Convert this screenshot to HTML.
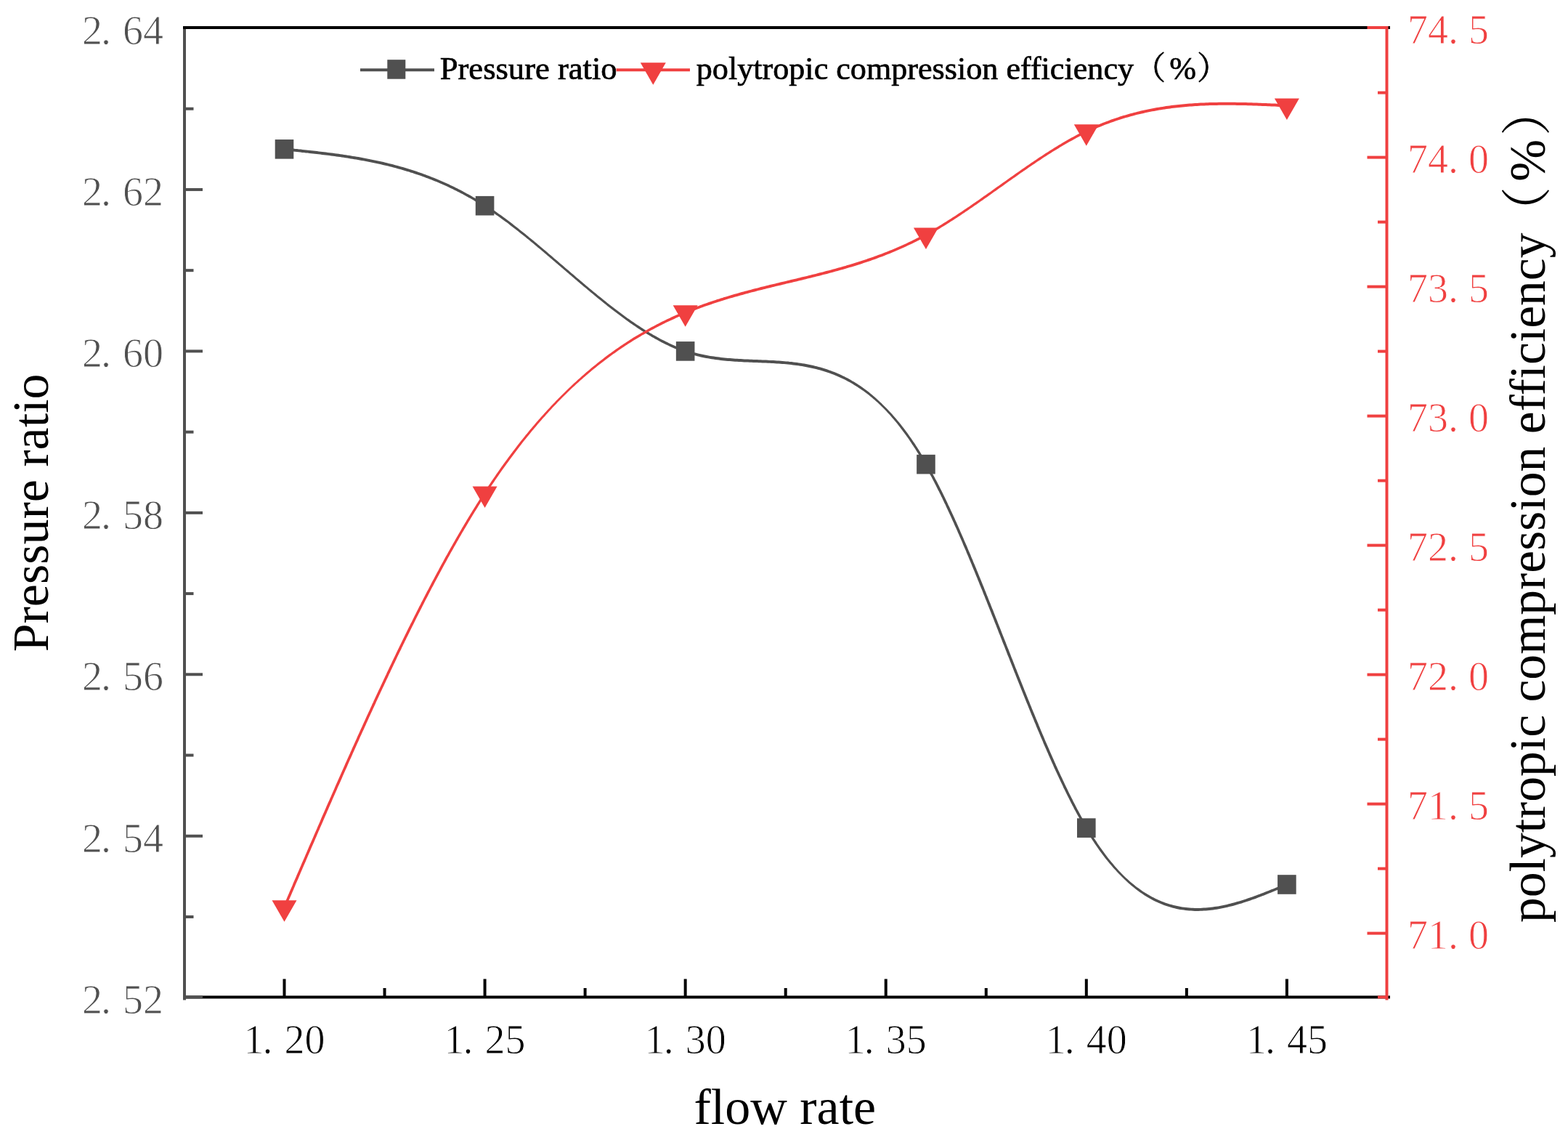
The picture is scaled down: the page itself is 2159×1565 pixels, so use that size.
<!DOCTYPE html><html><head><meta charset="utf-8"><title>Pressure ratio and polytropic compression efficiency vs flow rate</title>
<style>html,body{margin:0;padding:0;background:#fff;overflow:hidden}svg{display:block}text{font-family:"Liberation Serif","Noto Serif CJK SC",serif}</style></head><body>
<svg width="2159" height="1565" viewBox="0 0 2159 1565">
<rect width="2159" height="1565" fill="#fff"/>
<path d="M391.3,207.3 393.8,207.6 396.3,207.8 398.8,208.1 401.2,208.3 403.7,208.6 406.2,208.8 408.7,209.1 411.2,209.3 413.7,209.6 416.2,209.9 418.6,210.1 421.1,210.4 423.6,210.6 426.1,210.9 428.6,211.2 431.1,211.5 433.5,211.7 436.0,212.0 438.5,212.3 441.0,212.6 443.5,212.9 445.9,213.2 448.4,213.5 450.9,213.8 453.4,214.1 455.9,214.4 458.3,214.8 460.8,215.1 463.3,215.4 465.7,215.8 468.2,216.1 470.7,216.5 473.2,216.8 475.6,217.2 478.1,217.6 480.6,218.0 483.0,218.4 485.5,218.8 487.9,219.2 490.4,219.6 492.9,220.0 495.3,220.4 497.8,220.9 500.2,221.3 502.7,221.8 505.1,222.2 507.6,222.7 510.0,223.2 512.5,223.7 514.9,224.2 517.3,224.7 519.8,225.2 522.2,225.8 524.6,226.3 527.1,226.9 529.5,227.5 531.9,228.0 534.3,228.6 536.8,229.2 539.2,229.8 541.6,230.5 544.0,231.1 546.4,231.8 548.8,232.4 551.2,233.1 553.6,233.8 556.0,234.5 558.4,235.2 560.8,235.9 563.2,236.6 565.5,237.4 567.9,238.1 570.3,238.9 572.6,239.7 575.0,240.5 577.4,241.3 579.7,242.1 582.1,243.0 584.4,243.8 586.7,244.7 589.1,245.6 591.4,246.4 593.7,247.3 596.0,248.3 598.3,249.2 600.6,250.1 603.0,251.1 605.2,252.1 607.5,253.1 609.8,254.1 612.1,255.1 614.4,256.1 616.6,257.1 618.9,258.2 621.1,259.3 623.4,260.3 625.6,261.4 627.9,262.5 630.1,263.7 632.3,264.8 634.5,265.9 636.7,267.1 638.9,268.3 641.1,269.5 643.3,270.7 645.5,271.9 647.7,273.1 649.8,274.3 652.0,275.6 654.1,276.9 656.3,278.1 658.4,279.4 660.5,280.7 662.6,282.1 664.8,283.4 666.9,284.7 669.0,286.1 671.0,287.4 673.1,288.8 675.2,290.2 677.3,291.6 679.3,293.0 681.4,294.5 683.4,295.9 685.5,297.3 687.5,298.8 689.5,300.2 691.5,301.7 693.6,303.2 695.6,304.7 697.6,306.1 699.6,307.6 701.6,309.2 703.5,310.7 705.5,312.2 707.5,313.7 709.5,315.2 711.4,316.8 713.4,318.3 715.4,319.9 717.3,321.4 719.3,323.0 721.2,324.5 723.2,326.1 725.1,327.7 727.1,329.3 729.0,330.8 730.9,332.4 732.9,334.0 734.8,335.6 736.7,337.2 738.6,338.8 740.5,340.4 742.5,342.0 744.4,343.6 746.3,345.2 748.2,346.8 750.1,348.4 752.0,350.1 753.9,351.7 755.8,353.3 757.7,354.9 759.6,356.5 761.5,358.2 763.4,359.8 765.3,361.4 767.2,363.0 769.1,364.7 771.0,366.3 772.9,367.9 774.8,369.6 776.7,371.2 778.6,372.8 780.5,374.4 782.4,376.1 784.3,377.7 786.2,379.3 788.1,380.9 790.0,382.6 791.9,384.2 793.8,385.8 795.7,387.4 797.6,389.1 799.5,390.7 801.4,392.3 803.3,393.9 805.3,395.5 807.2,397.1 809.1,398.7 811.0,400.3 812.9,401.9 814.9,403.5 816.8,405.1 818.7,406.7 820.6,408.3 822.6,409.9 824.5,411.5 826.5,413.0 828.4,414.6 830.4,416.2 832.3,417.8 834.3,419.3 836.2,420.9 838.2,422.4 840.2,424.0 842.1,425.5 844.1,427.0 846.1,428.6 848.1,430.1 850.1,431.6 852.1,433.1 854.1,434.6 856.1,436.1 858.1,437.6 860.1,439.0 862.1,440.5 864.2,442.0 866.2,443.4 868.3,444.9 870.3,446.3 872.4,447.7 874.5,449.1 876.5,450.5 878.6,451.9 880.7,453.3 882.8,454.7 884.9,456.0 887.0,457.4 889.1,458.7 891.3,460.0 893.4,461.3 895.6,462.6 897.7,463.9 899.9,465.1 902.1,466.4 904.3,467.6 906.5,468.8 908.7,470.0 910.9,471.2 913.1,472.3 915.4,473.4 917.6,474.6 919.9,475.6 922.2,476.7 924.4,477.8 926.7,478.8 929.0,479.8 931.4,480.8 933.7,481.7 936.0,482.6 938.4,483.5 940.8,484.4 943.1,485.2 945.5,486.0 947.9,486.8 950.3,487.5 952.7,488.2 955.2,488.9 957.6,489.6 960.0,490.2 962.5,490.8 964.9,491.4 967.4,491.9 969.9,492.4 972.3,492.9 974.8,493.3 977.3,493.8 979.8,494.2 982.3,494.6 984.8,494.9 987.2,495.3 989.7,495.6 992.2,495.9 994.7,496.2 997.2,496.4 999.7,496.7 1002.2,496.9 1004.7,497.1 1007.2,497.3 1009.7,497.5 1012.2,497.7 1014.8,497.8 1017.3,498.0 1019.8,498.1 1022.3,498.2 1024.8,498.4 1027.3,498.5 1029.8,498.6 1032.3,498.7 1034.8,498.8 1037.3,498.9 1039.8,499.0 1042.3,499.1 1044.8,499.2 1047.3,499.3 1049.8,499.4 1052.3,499.5 1054.7,499.6 1057.2,499.7 1059.7,499.8 1062.2,500.0 1064.7,500.1 1067.2,500.2 1069.7,500.4 1072.2,500.6 1074.7,500.7 1077.1,500.9 1079.6,501.1 1082.1,501.3 1084.6,501.6 1087.1,501.8 1089.5,502.1 1092.0,502.4 1094.5,502.7 1096.9,503.0 1099.4,503.3 1101.8,503.7 1104.3,504.1 1106.7,504.5 1109.2,504.9 1111.6,505.4 1114.1,505.9 1116.5,506.4 1118.9,506.9 1121.3,507.5 1123.7,508.1 1126.1,508.7 1128.5,509.3 1130.9,510.0 1133.3,510.7 1135.7,511.4 1138.0,512.2 1140.4,513.0 1142.7,513.8 1145.1,514.7 1147.4,515.6 1149.7,516.5 1152.0,517.4 1154.3,518.4 1156.5,519.4 1158.8,520.5 1161.0,521.5 1163.2,522.6 1165.5,523.8 1167.6,524.9 1169.8,526.1 1172.0,527.3 1174.1,528.6 1176.3,529.9 1178.4,531.2 1180.5,532.5 1182.6,533.9 1184.6,535.3 1186.7,536.7 1188.7,538.1 1190.7,539.6 1192.7,541.1 1194.7,542.6 1196.7,544.1 1198.6,545.7 1200.6,547.3 1202.5,548.9 1204.4,550.5 1206.2,552.2 1208.1,553.8 1209.9,555.5 1211.7,557.2 1213.5,559.0 1215.3,560.7 1217.1,562.5 1218.8,564.3 1220.5,566.1 1222.2,567.9 1223.9,569.8 1225.6,571.6 1227.2,573.5 1228.9,575.4 1230.5,577.3 1232.1,579.2 1233.7,581.1 1235.3,583.1 1236.8,585.0 1238.4,587.0 1239.9,589.0 1241.4,591.0 1242.9,593.0 1244.4,595.0 1245.9,597.0 1247.4,599.0 1248.8,601.0 1250.3,603.1 1251.7,605.1 1253.1,607.2 1254.5,609.3 1255.9,611.4 1257.3,613.4 1258.6,615.5 1260.0,617.6 1261.3,619.8 1262.7,621.9 1264.0,624.0 1265.3,626.1 1266.6,628.3 1267.9,630.4 1269.2,632.6 1270.4,634.7 1271.7,636.9 1272.9,639.1 1274.2,641.2 1275.4,643.4 1276.6,645.6 1277.8,647.8 1279.0,650.0 1280.2,652.2 1281.4,654.4 1282.6,656.6 1283.7,658.8 1284.9,661.0 1286.1,663.2 1287.2,665.5 1288.4,667.7 1289.5,669.9 1290.6,672.2 1291.7,674.4 1292.9,676.6 1294.0,678.9 1295.1,681.1 1296.2,683.4 1297.3,685.6 1298.4,687.9 1299.4,690.1 1300.5,692.4 1301.6,694.6 1302.7,696.9 1303.7,699.2 1304.8,701.4 1305.8,703.7 1306.9,706.0 1307.9,708.2 1309.0,710.5 1310.0,712.8 1311.0,715.1 1312.1,717.4 1313.1,719.6 1314.1,721.9 1315.1,724.2 1316.2,726.5 1317.2,728.8 1318.2,731.1 1319.2,733.4 1320.2,735.6 1321.2,737.9 1322.2,740.2 1323.2,742.5 1324.2,744.8 1325.2,747.1 1326.1,749.4 1327.1,751.7 1328.1,754.0 1329.1,756.3 1330.1,758.6 1331.0,760.9 1332.0,763.2 1333.0,765.5 1333.9,767.8 1334.9,770.2 1335.9,772.5 1336.8,774.8 1337.8,777.1 1338.7,779.4 1339.7,781.7 1340.6,784.0 1341.6,786.3 1342.5,788.6 1343.5,791.0 1344.4,793.3 1345.4,795.6 1346.3,797.9 1347.3,800.2 1348.2,802.5 1349.1,804.9 1350.1,807.2 1351.0,809.5 1352.0,811.8 1352.9,814.1 1353.8,816.5 1354.7,818.8 1355.7,821.1 1356.6,823.4 1357.5,825.7 1358.5,828.1 1359.4,830.4 1360.3,832.7 1361.2,835.0 1362.2,837.4 1363.1,839.7 1364.0,842.0 1364.9,844.3 1365.8,846.7 1366.8,849.0 1367.7,851.3 1368.6,853.6 1369.5,856.0 1370.4,858.3 1371.4,860.6 1372.3,862.9 1373.2,865.3 1374.1,867.6 1375.0,869.9 1375.9,872.2 1376.9,874.6 1377.8,876.9 1378.7,879.2 1379.6,881.5 1380.5,883.9 1381.4,886.2 1382.4,888.5 1383.3,890.8 1384.2,893.2 1385.1,895.5 1386.0,897.8 1386.9,900.2 1387.8,902.5 1388.8,904.8 1389.7,907.1 1390.6,909.5 1391.5,911.8 1392.4,914.1 1393.4,916.4 1394.3,918.8 1395.2,921.1 1396.1,923.4 1397.0,925.7 1398.0,928.1 1398.9,930.4 1399.8,932.7 1400.7,935.0 1401.6,937.3 1402.6,939.7 1403.5,942.0 1404.4,944.3 1405.3,946.6 1406.3,949.0 1407.2,951.3 1408.1,953.6 1409.1,955.9 1410.0,958.2 1410.9,960.6 1411.9,962.9 1412.8,965.2 1413.7,967.5 1414.7,969.8 1415.6,972.1 1416.6,974.5 1417.5,976.8 1418.4,979.1 1419.4,981.4 1420.3,983.7 1421.3,986.0 1422.2,988.3 1423.2,990.6 1424.1,992.9 1425.1,995.3 1426.1,997.6 1427.0,999.9 1428.0,1002.2 1428.9,1004.5 1429.9,1006.8 1430.9,1009.1 1431.9,1011.4 1432.8,1013.7 1433.8,1016.0 1434.8,1018.3 1435.8,1020.6 1436.7,1022.9 1437.7,1025.2 1438.7,1027.5 1439.7,1029.8 1440.7,1032.1 1441.7,1034.4 1442.7,1036.6 1443.7,1038.9 1444.7,1041.2 1445.7,1043.5 1446.7,1045.8 1447.7,1048.1 1448.8,1050.4 1449.8,1052.6 1450.8,1054.9 1451.8,1057.2 1452.9,1059.5 1453.9,1061.7 1455.0,1064.0 1456.0,1066.3 1457.1,1068.5 1458.1,1070.8 1459.2,1073.1 1460.2,1075.3 1461.3,1077.6 1462.4,1079.8 1463.5,1082.1 1464.5,1084.4 1465.6,1086.6 1466.7,1088.8 1467.8,1091.1 1468.9,1093.3 1470.0,1095.6 1471.2,1097.8 1472.3,1100.0 1473.4,1102.3 1474.5,1104.5 1475.7,1106.7 1476.8,1108.9 1478.0,1111.1 1479.1,1113.4 1480.3,1115.6 1481.5,1117.8 1482.7,1120.0 1483.9,1122.2 1485.1,1124.3 1486.3,1126.5 1487.5,1128.7 1488.7,1130.9 1490.0,1133.1 1491.2,1135.2 1492.5,1137.4 1493.8,1139.5 1495.0,1141.7 1496.3,1143.8 1497.6,1145.9 1498.9,1148.1 1500.3,1150.2 1501.6,1152.3 1503.0,1154.4 1504.3,1156.5 1505.7,1158.6 1507.1,1160.7 1508.5,1162.7 1509.9,1164.8 1511.3,1166.8 1512.8,1168.9 1514.2,1170.9 1515.7,1172.9 1517.2,1174.9 1518.7,1176.9 1520.2,1178.9 1521.7,1180.9 1523.3,1182.9 1524.8,1184.8 1526.4,1186.8 1528.0,1188.7 1529.6,1190.6 1531.3,1192.5 1532.9,1194.4 1534.6,1196.2 1536.3,1198.1 1538.0,1199.9 1539.7,1201.7 1541.4,1203.5 1543.2,1205.3 1544.9,1207.1 1546.7,1208.8 1548.5,1210.6 1550.3,1212.3 1552.2,1214.0 1554.0,1215.7 1555.9,1217.3 1557.8,1219.0 1559.8,1220.6 1561.7,1222.1 1563.7,1223.7 1565.7,1225.2 1567.7,1226.7 1569.7,1228.2 1571.8,1229.6 1573.9,1231.0 1576.0,1232.4 1578.1,1233.7 1580.2,1235.0 1582.4,1236.3 1584.6,1237.5 1586.8,1238.7 1589.1,1239.9 1591.3,1241.0 1593.6,1242.1 1595.9,1243.1 1598.3,1244.1 1600.6,1245.0 1603.0,1245.9 1605.3,1246.8 1607.7,1247.6 1610.2,1248.3 1612.6,1249.0 1615.0,1249.7 1617.5,1250.3 1620.0,1250.9 1622.4,1251.4 1624.9,1251.9 1627.4,1252.3 1629.9,1252.6 1632.4,1253.0 1635.0,1253.2 1637.5,1253.5 1640.0,1253.6 1642.5,1253.8 1645.1,1253.9 1647.6,1253.9 1650.1,1253.9 1652.7,1253.8 1655.2,1253.8 1657.7,1253.6 1660.3,1253.5 1662.8,1253.3 1665.3,1253.0 1667.8,1252.7 1670.3,1252.4 1672.8,1252.0 1675.3,1251.7 1677.8,1251.2 1680.3,1250.8 1682.8,1250.3 1685.3,1249.8 1687.7,1249.3 1690.2,1248.7 1692.6,1248.1 1695.1,1247.5 1697.5,1246.9 1700.0,1246.2 1702.4,1245.5 1704.8,1244.8 1707.2,1244.1 1709.6,1243.4 1712.0,1242.6 1714.4,1241.8 1716.8,1241.0 1719.2,1240.2 1721.6,1239.4 1723.9,1238.6 1726.3,1237.7 1728.7,1236.9 1731.0,1236.0 1733.4,1235.1 1735.7,1234.2 1738.1,1233.3 1740.4,1232.4 1742.7,1231.5 1745.1,1230.6 1747.4,1229.6 1749.7,1228.7 1752.0,1227.7 1754.4,1226.8 1756.7,1225.8 1759.0,1224.9 1761.3,1223.9 1763.6,1223.0 1765.9,1222.0 1768.2,1221.0 1770.5,1220.1 1772.6,1219.2 1771.2,1215.8 1769.1,1216.7 1766.8,1217.6 1764.5,1218.6 1762.2,1219.5 1759.9,1220.5 1757.6,1221.5 1755.3,1222.4 1753.0,1223.4 1750.6,1224.3 1748.3,1225.2 1746.0,1226.2 1743.7,1227.1 1741.4,1228.0 1739.0,1228.9 1736.7,1229.8 1734.4,1230.7 1732.1,1231.6 1729.7,1232.5 1727.4,1233.3 1725.0,1234.2 1722.7,1235.0 1720.3,1235.8 1718.0,1236.6 1715.6,1237.4 1713.2,1238.2 1710.9,1239.0 1708.5,1239.7 1706.1,1240.4 1703.7,1241.1 1701.3,1241.8 1698.9,1242.5 1696.5,1243.1 1694.1,1243.7 1691.7,1244.3 1689.3,1244.9 1686.9,1245.5 1684.5,1246.0 1682.0,1246.5 1679.6,1246.9 1677.2,1247.4 1674.7,1247.8 1672.3,1248.1 1669.8,1248.5 1667.4,1248.8 1664.9,1249.0 1662.4,1249.3 1660.0,1249.5 1657.5,1249.6 1655.0,1249.8 1652.6,1249.9 1650.1,1249.9 1647.6,1249.9 1645.2,1249.9 1642.7,1249.8 1640.3,1249.7 1637.8,1249.5 1635.3,1249.3 1632.9,1249.0 1630.5,1248.7 1628.0,1248.4 1625.6,1248.0 1623.2,1247.5 1620.8,1247.1 1618.4,1246.5 1616.0,1246.0 1613.6,1245.3 1611.2,1244.7 1608.9,1243.9 1606.6,1243.2 1604.2,1242.4 1601.9,1241.5 1599.7,1240.7 1597.4,1239.7 1595.1,1238.7 1592.9,1237.7 1590.7,1236.7 1588.5,1235.6 1586.3,1234.4 1584.1,1233.3 1582.0,1232.1 1579.9,1230.8 1577.8,1229.5 1575.7,1228.2 1573.6,1226.9 1571.6,1225.5 1569.6,1224.1 1567.6,1222.6 1565.6,1221.2 1563.6,1219.7 1561.7,1218.1 1559.8,1216.6 1557.9,1215.0 1556.0,1213.4 1554.2,1211.8 1552.3,1210.1 1550.5,1208.5 1548.7,1206.8 1546.9,1205.0 1545.2,1203.3 1543.5,1201.5 1541.8,1199.7 1540.1,1197.9 1538.4,1196.1 1536.8,1194.2 1535.2,1192.4 1533.6,1190.5 1532.0,1188.6 1530.4,1186.7 1528.8,1184.8 1527.3,1182.9 1525.7,1180.9 1524.2,1179.0 1522.7,1177.0 1521.2,1175.0 1519.8,1173.0 1518.3,1171.0 1516.9,1169.0 1515.4,1167.0 1514.0,1165.0 1512.6,1162.9 1511.2,1160.9 1509.9,1158.8 1508.5,1156.7 1507.1,1154.7 1505.8,1152.6 1504.5,1150.5 1503.1,1148.4 1501.8,1146.3 1500.5,1144.2 1499.3,1142.0 1498.0,1139.9 1496.7,1137.8 1495.5,1135.6 1494.2,1133.5 1493.0,1131.3 1491.8,1129.2 1490.6,1127.0 1489.3,1124.8 1488.2,1122.7 1487.0,1120.5 1485.8,1118.3 1484.6,1116.1 1483.4,1113.9 1482.3,1111.7 1481.1,1109.5 1480.0,1107.3 1478.8,1105.1 1477.7,1102.9 1476.6,1100.6 1475.5,1098.4 1474.4,1096.2 1473.2,1094.0 1472.1,1091.7 1471.0,1089.5 1470.0,1087.3 1468.9,1085.0 1467.8,1082.8 1466.7,1080.5 1465.6,1078.3 1464.6,1076.0 1463.5,1073.8 1462.5,1071.5 1461.4,1069.3 1460.3,1067.0 1459.3,1064.8 1458.3,1062.5 1457.2,1060.2 1456.2,1058.0 1455.2,1055.7 1454.1,1053.4 1453.1,1051.1 1452.1,1048.9 1451.1,1046.6 1450.1,1044.3 1449.1,1042.0 1448.1,1039.8 1447.1,1037.5 1446.1,1035.2 1445.1,1032.9 1444.1,1030.6 1443.1,1028.3 1442.1,1026.0 1441.1,1023.7 1440.1,1021.4 1439.1,1019.2 1438.2,1016.9 1437.2,1014.6 1436.2,1012.3 1435.2,1010.0 1434.3,1007.7 1433.3,1005.4 1432.3,1003.1 1431.4,1000.8 1430.4,998.5 1429.5,996.1 1428.5,993.8 1427.6,991.5 1426.6,989.2 1425.7,986.9 1424.7,984.6 1423.8,982.3 1422.8,980.0 1421.9,977.7 1420.9,975.4 1420.0,973.1 1419.0,970.7 1418.1,968.4 1417.2,966.1 1416.2,963.8 1415.3,961.5 1414.4,959.2 1413.4,956.8 1412.5,954.5 1411.6,952.2 1410.6,949.9 1409.7,947.6 1408.8,945.3 1407.9,942.9 1406.9,940.6 1406.0,938.3 1405.1,936.0 1404.2,933.7 1403.2,931.3 1402.3,929.0 1401.4,926.7 1400.5,924.4 1399.6,922.0 1398.6,919.7 1397.7,917.4 1396.8,915.1 1395.9,912.7 1395.0,910.4 1394.1,908.1 1393.1,905.8 1392.2,903.4 1391.3,901.1 1390.4,898.8 1389.5,896.5 1388.6,894.1 1387.6,891.8 1386.7,889.5 1385.8,887.2 1384.9,884.8 1384.0,882.5 1383.1,880.2 1382.2,877.9 1381.2,875.5 1380.3,873.2 1379.4,870.9 1378.5,868.5 1377.6,866.2 1376.7,863.9 1375.7,861.6 1374.8,859.2 1373.9,856.9 1373.0,854.6 1372.1,852.3 1371.1,849.9 1370.2,847.6 1369.3,845.3 1368.4,843.0 1367.5,840.6 1366.5,838.3 1365.6,836.0 1364.7,833.7 1363.8,831.3 1362.8,829.0 1361.9,826.7 1361.0,824.4 1360.1,822.0 1359.1,819.7 1358.2,817.4 1357.3,815.1 1356.3,812.8 1355.4,810.4 1354.5,808.1 1353.5,805.8 1352.6,803.5 1351.6,801.1 1350.7,798.8 1349.8,796.5 1348.8,794.2 1347.9,791.9 1346.9,789.6 1346.0,787.2 1345.0,784.9 1344.1,782.6 1343.1,780.3 1342.2,778.0 1341.2,775.7 1340.2,773.4 1339.3,771.0 1338.3,768.7 1337.3,766.4 1336.4,764.1 1335.4,761.8 1334.4,759.5 1333.4,757.2 1332.5,754.9 1331.5,752.6 1330.5,750.3 1329.5,748.0 1328.5,745.7 1327.5,743.4 1326.5,741.1 1325.5,738.8 1324.5,736.5 1323.5,734.2 1322.5,731.9 1321.5,729.6 1320.5,727.3 1319.5,725.0 1318.5,722.7 1317.5,720.4 1316.4,718.1 1315.4,715.9 1314.4,713.6 1313.3,711.3 1312.3,709.0 1311.2,706.7 1310.2,704.4 1309.1,702.2 1308.1,699.9 1307.0,697.6 1305.9,695.4 1304.8,693.1 1303.8,690.8 1302.7,688.6 1301.6,686.3 1300.5,684.0 1299.4,681.8 1298.3,679.5 1297.2,677.3 1296.1,675.0 1294.9,672.8 1293.8,670.5 1292.7,668.3 1291.5,666.1 1290.4,663.8 1289.2,661.6 1288.0,659.4 1286.9,657.2 1285.7,654.9 1284.5,652.7 1283.3,650.5 1282.1,648.3 1280.9,646.1 1279.7,643.9 1278.4,641.7 1277.2,639.5 1275.9,637.3 1274.7,635.2 1273.4,633.0 1272.1,630.8 1270.8,628.7 1269.5,626.5 1268.2,624.4 1266.9,622.2 1265.5,620.1 1264.2,617.9 1262.8,615.8 1261.4,613.7 1260.1,611.6 1258.7,609.5 1257.2,607.4 1255.8,605.3 1254.4,603.3 1252.9,601.2 1251.5,599.2 1250.0,597.1 1248.5,595.1 1247.0,593.0 1245.5,591.0 1244.0,589.0 1242.4,587.0 1240.9,585.1 1239.3,583.1 1237.7,581.1 1236.1,579.2 1234.5,577.2 1232.8,575.3 1231.2,573.4 1229.5,571.5 1227.8,569.6 1226.1,567.8 1224.4,565.9 1222.6,564.1 1220.9,562.3 1219.1,560.5 1217.3,558.7 1215.5,556.9 1213.7,555.1 1211.9,553.4 1210.1,551.7 1208.2,549.9 1206.3,548.3 1204.4,546.6 1202.5,544.9 1200.6,543.3 1198.6,541.7 1196.7,540.1 1194.7,538.6 1192.7,537.0 1190.6,535.5 1188.6,534.0 1186.5,532.6 1184.4,531.1 1182.3,529.7 1180.2,528.3 1178.1,527.0 1175.9,525.6 1173.7,524.4 1171.5,523.1 1169.3,521.8 1167.1,520.6 1164.9,519.5 1162.6,518.3 1160.3,517.2 1158.0,516.1 1155.7,515.1 1153.4,514.1 1151.1,513.1 1148.7,512.1 1146.4,511.2 1144.0,510.3 1141.6,509.4 1139.2,508.6 1136.8,507.8 1134.4,507.1 1132.0,506.3 1129.6,505.6 1127.1,505.0 1124.7,504.3 1122.2,503.7 1119.8,503.1 1117.3,502.6 1114.8,502.0 1112.4,501.5 1109.9,501.1 1107.4,500.6 1104.9,500.2 1102.4,499.8 1100.0,499.4 1097.5,499.1 1095.0,498.7 1092.5,498.4 1090.0,498.1 1087.5,497.9 1085.0,497.6 1082.5,497.4 1080.0,497.2 1077.5,497.0 1074.9,496.8 1072.4,496.6 1069.9,496.4 1067.4,496.3 1064.9,496.1 1062.4,496.0 1059.9,495.9 1057.4,495.7 1054.9,495.6 1052.4,495.5 1049.9,495.4 1047.4,495.3 1044.9,495.2 1042.4,495.1 1039.9,495.0 1037.4,494.9 1034.9,494.8 1032.4,494.7 1029.9,494.6 1027.4,494.5 1025.0,494.4 1022.5,494.2 1020.0,494.1 1017.5,494.0 1015.0,493.8 1012.5,493.7 1010.0,493.5 1007.5,493.3 1005.1,493.1 1002.6,492.9 1000.1,492.7 997.6,492.5 995.2,492.2 992.7,491.9 990.2,491.6 987.8,491.3 985.3,491.0 982.8,490.6 980.4,490.3 977.9,489.9 975.5,489.5 973.1,489.0 970.6,488.6 968.2,488.1 965.8,487.5 963.4,487.0 961.0,486.4 958.6,485.8 956.2,485.2 953.8,484.5 951.4,483.9 949.0,483.1 946.7,482.4 944.3,481.6 942.0,480.8 939.7,480.0 937.4,479.1 935.1,478.2 932.8,477.3 930.5,476.4 928.2,475.4 925.9,474.4 923.7,473.4 921.4,472.4 919.2,471.3 917.0,470.2 914.7,469.1 912.5,468.0 910.3,466.9 908.1,465.7 906.0,464.5 903.8,463.3 901.6,462.1 899.5,460.9 897.3,459.6 895.2,458.4 893.1,457.1 890.9,455.8 888.8,454.5 886.7,453.2 884.6,451.8 882.5,450.5 880.5,449.1 878.4,447.8 876.3,446.4 874.2,445.0 872.2,443.6 870.1,442.2 868.1,440.7 866.1,439.3 864.0,437.9 862.0,436.4 860.0,435.0 858.0,433.5 856.0,432.0 854.0,430.5 852.0,429.0 850.0,427.5 848.0,426.0 846.0,424.5 844.1,423.0 842.1,421.5 840.1,419.9 838.2,418.4 836.2,416.9 834.3,415.3 832.3,413.8 830.4,412.2 828.4,410.6 826.5,409.1 824.5,407.5 822.6,405.9 820.7,404.3 818.7,402.7 816.8,401.2 814.9,399.6 813.0,398.0 811.1,396.4 809.1,394.8 807.2,393.2 805.3,391.6 803.4,390.0 801.5,388.3 799.6,386.7 797.7,385.1 795.8,383.5 793.9,381.9 792.0,380.3 790.1,378.6 788.2,377.0 786.3,375.4 784.4,373.8 782.5,372.1 780.6,370.5 778.7,368.9 776.8,367.2 774.9,365.6 773.0,364.0 771.1,362.4 769.2,360.7 767.3,359.1 765.4,357.5 763.5,355.9 761.6,354.2 759.7,352.6 757.8,351.0 755.9,349.4 754.0,347.7 752.1,346.1 750.2,344.5 748.3,342.9 746.3,341.3 744.4,339.7 742.5,338.1 740.6,336.4 738.7,334.8 736.7,333.2 734.8,331.6 732.9,330.0 731.0,328.5 729.0,326.9 727.1,325.3 725.1,323.7 723.2,322.1 721.2,320.5 719.3,319.0 717.3,317.4 715.4,315.9 713.4,314.3 711.4,312.8 709.4,311.2 707.5,309.7 705.5,308.1 703.5,306.6 701.5,305.1 699.5,303.6 697.5,302.1 695.5,300.6 693.4,299.1 691.4,297.6 689.4,296.1 687.3,294.7 685.3,293.2 683.3,291.8 681.2,290.3 679.1,288.9 677.1,287.5 675.0,286.1 672.9,284.7 670.8,283.3 668.7,281.9 666.6,280.5 664.4,279.2 662.3,277.9 660.2,276.5 658.0,275.2 655.9,273.9 653.7,272.6 651.6,271.4 649.4,270.1 647.2,268.8 645.0,267.6 642.8,266.4 640.6,265.2 638.4,264.0 636.2,262.8 633.9,261.6 631.7,260.5 629.5,259.3 627.2,258.2 625.0,257.1 622.7,256.0 620.4,254.9 618.2,253.8 615.9,252.8 613.6,251.7 611.3,250.7 609.0,249.7 606.7,248.7 604.4,247.7 602.1,246.7 599.7,245.8 597.4,244.8 595.1,243.9 592.7,243.0 590.4,242.1 588.0,241.2 585.7,240.3 583.3,239.4 581.0,238.6 578.6,237.7 576.2,236.9 573.8,236.1 571.5,235.3 569.1,234.5 566.7,233.7 564.3,233.0 561.9,232.2 559.5,231.5 557.1,230.8 554.7,230.1 552.3,229.4 549.8,228.7 547.4,228.0 545.0,227.4 542.6,226.7 540.1,226.1 537.7,225.5 535.3,224.9 532.8,224.3 530.4,223.7 528.0,223.1 525.5,222.5 523.1,222.0 520.6,221.4 518.2,220.9 515.7,220.4 513.2,219.9 510.8,219.4 508.3,218.9 505.9,218.4 503.4,217.9 500.9,217.5 498.5,217.0 496.0,216.6 493.5,216.1 491.1,215.7 488.6,215.3 486.1,214.9 483.6,214.5 481.2,214.1 478.7,213.7 476.2,213.3 473.7,212.9 471.3,212.6 468.8,212.2 466.3,211.8 463.8,211.5 461.3,211.2 458.8,210.8 456.4,210.5 453.9,210.2 451.4,209.9 448.9,209.6 446.4,209.2 443.9,208.9 441.5,208.7 439.0,208.4 436.5,208.1 434.0,207.8 431.5,207.5 429.0,207.2 426.5,207.0 424.0,206.7 421.6,206.4 419.1,206.2 416.6,205.9 414.1,205.6 411.6,205.4 409.1,205.1 406.6,204.9 404.1,204.6 401.7,204.4 399.2,204.1 396.7,203.9 394.2,203.6 391.7,203.4Z" fill="#505050"/>
<path d="M393.2,1249.7 394.2,1247.4 395.2,1245.1 396.2,1242.8 397.1,1240.5 398.1,1238.2 399.1,1235.9 400.1,1233.7 401.1,1231.4 402.1,1229.1 403.1,1226.8 404.1,1224.5 405.0,1222.2 406.0,1219.9 407.0,1217.6 408.0,1215.3 409.0,1213.0 410.0,1210.7 411.0,1208.4 412.0,1206.1 413.0,1203.8 413.9,1201.5 414.9,1199.2 415.9,1196.9 416.9,1194.6 417.9,1192.3 418.9,1190.0 419.9,1187.7 420.9,1185.4 421.9,1183.1 422.9,1180.8 423.8,1178.6 424.8,1176.3 425.8,1174.0 426.8,1171.7 427.8,1169.4 428.8,1167.1 429.8,1164.8 430.8,1162.5 431.8,1160.2 432.8,1157.9 433.8,1155.6 434.8,1153.3 435.8,1151.0 436.7,1148.7 437.7,1146.4 438.7,1144.1 439.7,1141.9 440.7,1139.6 441.7,1137.3 442.7,1135.0 443.7,1132.7 444.7,1130.4 445.7,1128.1 446.7,1125.8 447.7,1123.5 448.7,1121.2 449.7,1118.9 450.7,1116.6 451.7,1114.4 452.7,1112.1 453.7,1109.8 454.7,1107.5 455.7,1105.2 456.7,1102.9 457.7,1100.6 458.7,1098.3 459.7,1096.0 460.7,1093.8 461.7,1091.5 462.7,1089.2 463.7,1086.9 464.7,1084.6 465.7,1082.3 466.8,1080.0 467.8,1077.7 468.8,1075.5 469.8,1073.2 470.8,1070.9 471.8,1068.6 472.8,1066.3 473.8,1064.0 474.8,1061.7 475.8,1059.5 476.9,1057.2 477.9,1054.9 478.9,1052.6 479.9,1050.3 480.9,1048.0 481.9,1045.8 483.0,1043.5 484.0,1041.2 485.0,1038.9 486.0,1036.6 487.0,1034.4 488.1,1032.1 489.1,1029.8 490.1,1027.5 491.1,1025.2 492.1,1023.0 493.2,1020.7 494.2,1018.4 495.2,1016.1 496.2,1013.8 497.3,1011.6 498.3,1009.3 499.3,1007.0 500.4,1004.7 501.4,1002.5 502.4,1000.2 503.5,997.9 504.5,995.6 505.5,993.4 506.6,991.1 507.6,988.8 508.6,986.5 509.7,984.3 510.7,982.0 511.8,979.7 512.8,977.5 513.8,975.2 514.9,972.9 515.9,970.7 517.0,968.4 518.0,966.1 519.1,963.8 520.1,961.6 521.2,959.3 522.2,957.1 523.3,954.8 524.3,952.5 525.4,950.3 526.4,948.0 527.5,945.7 528.6,943.5 529.6,941.2 530.7,938.9 531.7,936.7 532.8,934.4 533.9,932.2 534.9,929.9 536.0,927.6 537.1,925.4 538.1,923.1 539.2,920.9 540.3,918.6 541.3,916.4 542.4,914.1 543.5,911.9 544.6,909.6 545.6,907.4 546.7,905.1 547.8,902.8 548.9,900.6 550.0,898.3 551.1,896.1 552.2,893.9 553.2,891.6 554.3,889.4 555.4,887.1 556.5,884.9 557.6,882.6 558.7,880.4 559.8,878.1 560.9,875.9 562.0,873.7 563.1,871.4 564.2,869.2 565.3,866.9 566.4,864.7 567.5,862.5 568.7,860.2 569.8,858.0 570.9,855.8 572.0,853.5 573.1,851.3 574.2,849.1 575.4,846.8 576.5,844.6 577.6,842.4 578.7,840.2 579.9,837.9 581.0,835.7 582.1,833.5 583.3,831.3 584.4,829.0 585.5,826.8 586.7,824.6 587.8,822.4 589.0,820.2 590.1,817.9 591.3,815.7 592.4,813.5 593.6,811.3 594.7,809.1 595.9,806.9 597.1,804.7 598.2,802.5 599.4,800.3 600.6,798.1 601.7,795.9 602.9,793.7 604.1,791.5 605.3,789.3 606.5,787.1 607.6,784.9 608.8,782.7 610.0,780.5 611.2,778.3 612.4,776.1 613.6,773.9 614.8,771.7 616.0,769.5 617.2,767.3 618.4,765.2 619.6,763.0 620.8,760.8 622.1,758.6 623.3,756.4 624.5,754.3 625.7,752.1 627.0,749.9 628.2,747.8 629.4,745.6 630.7,743.4 631.9,741.3 633.1,739.1 634.4,736.9 635.6,734.8 636.9,732.6 638.2,730.5 639.4,728.3 640.7,726.2 642.0,724.0 643.2,721.9 644.5,719.7 645.8,717.6 647.1,715.5 648.3,713.3 649.6,711.2 650.9,709.1 652.2,706.9 653.5,704.8 654.8,702.7 656.2,700.6 657.5,698.5 658.8,696.3 660.1,694.2 661.4,692.1 662.8,690.0 664.1,687.9 665.4,685.8 666.8,683.7 668.1,681.6 669.5,679.5 670.9,677.4 672.2,675.4 673.6,673.3 675.0,671.2 676.3,669.1 677.7,667.0 679.1,665.0 680.5,662.9 681.9,660.8 683.3,658.8 684.7,656.7 686.1,654.7 687.6,652.6 689.0,650.6 690.4,648.6 691.8,646.5 693.3,644.5 694.7,642.5 696.2,640.4 697.6,638.4 699.1,636.4 700.6,634.4 702.0,632.4 703.5,630.4 705.0,628.4 706.5,626.4 708.0,624.4 709.5,622.4 711.0,620.4 712.5,618.4 714.0,616.4 715.5,614.5 717.1,612.5 718.6,610.5 720.1,608.6 721.7,606.6 723.2,604.7 724.8,602.7 726.4,600.8 727.9,598.9 729.5,596.9 731.1,595.0 732.7,593.1 734.3,591.2 735.9,589.3 737.5,587.4 739.1,585.5 740.7,583.6 742.3,581.7 744.0,579.8 745.6,577.9 747.2,576.1 748.9,574.2 750.6,572.4 752.2,570.5 753.9,568.7 755.6,566.8 757.2,565.0 758.9,563.2 760.6,561.3 762.3,559.5 764.0,557.7 765.8,555.9 767.5,554.1 769.2,552.3 771.0,550.5 772.7,548.8 774.4,547.0 776.2,545.2 778.0,543.5 779.8,541.7 781.5,540.0 783.3,538.3 785.1,536.6 786.9,534.8 788.8,533.1 790.6,531.4 792.4,529.8 794.2,528.1 796.1,526.4 797.9,524.7 799.8,523.1 801.7,521.4 803.5,519.8 805.4,518.2 807.3,516.5 809.2,514.9 811.1,513.3 813.0,511.7 814.9,510.1 816.8,508.5 818.7,507.0 820.7,505.4 822.6,503.8 824.6,502.3 826.5,500.7 828.5,499.2 830.5,497.7 832.4,496.2 834.4,494.7 836.4,493.2 838.4,491.7 840.4,490.2 842.4,488.8 844.4,487.3 846.5,485.9 848.5,484.4 850.5,483.0 852.6,481.6 854.6,480.2 856.7,478.8 858.8,477.4 860.8,476.1 862.9,474.7 865.0,473.3 867.1,472.0 869.2,470.7 871.3,469.3 873.4,468.0 875.6,466.7 877.7,465.4 879.8,464.2 882.0,462.9 884.1,461.6 886.3,460.4 888.4,459.2 890.6,457.9 892.8,456.7 894.9,455.5 897.1,454.3 899.3,453.2 901.5,452.0 903.7,450.8 905.9,449.7 908.1,448.6 910.4,447.4 912.6,446.3 914.8,445.2 917.0,444.1 919.3,443.1 921.5,442.0 923.8,440.9 926.0,439.9 928.3,438.9 930.6,437.8 932.9,436.8 935.1,435.8 937.4,434.8 939.7,433.9 942.0,432.9 944.3,431.9 946.6,431.0 948.9,430.1 951.2,429.1 953.5,428.2 955.9,427.3 958.2,426.4 960.5,425.6 962.8,424.7 965.2,423.8 967.5,423.0 969.9,422.1 972.2,421.3 974.6,420.5 976.9,419.7 979.3,418.9 981.6,418.1 984.0,417.3 986.4,416.5 988.7,415.8 991.1,415.0 993.5,414.3 995.9,413.5 998.2,412.8 1000.6,412.1 1003.0,411.3 1005.4,410.6 1007.8,409.9 1010.2,409.2 1012.6,408.5 1015.0,407.9 1017.4,407.2 1019.8,406.5 1022.2,405.9 1024.6,405.2 1027.0,404.5 1029.4,403.9 1031.8,403.3 1034.2,402.6 1036.7,402.0 1039.1,401.4 1041.5,400.8 1043.9,400.1 1046.3,399.5 1048.8,398.9 1051.2,398.3 1053.6,397.7 1056.0,397.1 1058.5,396.5 1060.9,395.9 1063.3,395.3 1065.7,394.7 1068.2,394.1 1070.6,393.6 1073.0,393.0 1075.4,392.4 1077.9,391.8 1080.3,391.2 1082.7,390.6 1085.2,390.1 1087.6,389.5 1090.0,388.9 1092.5,388.3 1094.9,387.7 1097.3,387.2 1099.8,386.6 1102.2,386.0 1104.6,385.4 1107.1,384.8 1109.5,384.2 1111.9,383.6 1114.3,383.0 1116.8,382.4 1119.2,381.8 1121.6,381.2 1124.1,380.6 1126.5,380.0 1128.9,379.4 1131.3,378.8 1133.8,378.1 1136.2,377.5 1138.6,376.9 1141.0,376.2 1143.5,375.6 1145.9,375.0 1148.3,374.3 1150.7,373.6 1153.1,373.0 1155.5,372.3 1158.0,371.6 1160.4,370.9 1162.8,370.2 1165.2,369.5 1167.6,368.8 1170.0,368.1 1172.4,367.4 1174.8,366.7 1177.2,365.9 1179.6,365.2 1182.0,364.4 1184.4,363.7 1186.7,362.9 1189.1,362.1 1191.5,361.3 1193.9,360.5 1196.3,359.7 1198.6,358.9 1201.0,358.0 1203.4,357.2 1205.7,356.4 1208.1,355.5 1210.4,354.6 1212.8,353.8 1215.1,352.9 1217.5,352.0 1219.8,351.0 1222.2,350.1 1224.5,349.2 1226.8,348.2 1229.1,347.3 1231.5,346.3 1233.8,345.3 1236.1,344.3 1238.4,343.3 1240.7,342.3 1243.0,341.3 1245.3,340.3 1247.5,339.2 1249.8,338.1 1252.1,337.1 1254.4,336.0 1256.6,334.9 1258.9,333.8 1261.1,332.7 1263.4,331.5 1265.6,330.4 1267.8,329.2 1270.0,328.0 1272.3,326.9 1274.5,325.7 1276.7,324.5 1278.9,323.2 1281.1,322.0 1283.2,320.8 1285.4,319.5 1287.6,318.2 1289.8,317.0 1291.9,315.7 1294.1,314.4 1296.2,313.1 1298.4,311.8 1300.5,310.5 1302.6,309.2 1304.8,307.8 1306.9,306.5 1309.0,305.1 1311.1,303.8 1313.2,302.4 1315.3,301.1 1317.4,299.7 1319.5,298.3 1321.6,296.9 1323.7,295.5 1325.8,294.1 1327.9,292.7 1329.9,291.3 1332.0,289.9 1334.1,288.5 1336.1,287.1 1338.2,285.7 1340.3,284.3 1342.3,282.8 1344.4,281.4 1346.4,280.0 1348.5,278.6 1350.5,277.1 1352.6,275.7 1354.6,274.2 1356.7,272.8 1358.7,271.4 1360.8,269.9 1362.8,268.5 1364.9,267.0 1366.9,265.6 1368.9,264.1 1371.0,262.7 1373.0,261.2 1375.0,259.8 1377.1,258.3 1379.1,256.9 1381.2,255.4 1383.2,254.0 1385.2,252.5 1387.3,251.1 1389.3,249.6 1391.3,248.2 1393.4,246.8 1395.4,245.3 1397.5,243.9 1399.5,242.4 1401.6,241.0 1403.6,239.6 1405.6,238.1 1407.7,236.7 1409.7,235.3 1411.8,233.9 1413.9,232.5 1415.9,231.0 1418.0,229.6 1420.0,228.2 1422.1,226.8 1424.2,225.4 1426.2,224.0 1428.3,222.6 1430.4,221.3 1432.5,219.9 1434.5,218.5 1436.6,217.1 1438.7,215.8 1440.8,214.4 1442.9,213.1 1445.0,211.7 1447.1,210.4 1449.2,209.1 1451.3,207.8 1453.5,206.5 1455.6,205.2 1457.7,203.9 1459.8,202.6 1462.0,201.3 1464.1,200.0 1466.3,198.8 1468.4,197.5 1470.6,196.3 1472.7,195.1 1474.9,193.9 1477.1,192.7 1479.3,191.5 1481.5,190.3 1483.7,189.1 1485.9,188.0 1488.1,186.8 1490.3,185.7 1492.5,184.6 1494.7,183.5 1497.0,182.4 1499.2,181.4 1501.5,180.3 1503.7,179.3 1506.0,178.3 1508.3,177.3 1510.6,176.3 1512.8,175.3 1515.1,174.4 1517.4,173.4 1519.7,172.5 1522.1,171.6 1524.4,170.7 1526.7,169.9 1529.0,169.0 1531.4,168.2 1533.7,167.4 1536.1,166.6 1538.4,165.8 1540.8,165.0 1543.2,164.2 1545.5,163.5 1547.9,162.8 1550.3,162.1 1552.7,161.4 1555.1,160.7 1557.5,160.0 1559.9,159.4 1562.3,158.8 1564.7,158.1 1567.1,157.5 1569.5,157.0 1571.9,156.4 1574.3,155.9 1576.8,155.3 1579.2,154.8 1581.6,154.3 1584.1,153.8 1586.5,153.3 1589.0,152.9 1591.4,152.4 1593.9,152.0 1596.3,151.6 1598.8,151.2 1601.2,150.8 1603.7,150.4 1606.1,150.1 1608.6,149.7 1611.1,149.4 1613.5,149.1 1616.0,148.8 1618.5,148.5 1620.9,148.2 1623.4,147.9 1625.9,147.7 1628.4,147.4 1630.9,147.2 1633.3,147.0 1635.8,146.8 1638.3,146.6 1640.8,146.4 1643.3,146.2 1645.8,146.0 1648.2,145.9 1650.7,145.7 1653.2,145.6 1655.7,145.5 1658.2,145.4 1660.7,145.3 1663.2,145.2 1665.7,145.1 1668.2,145.0 1670.6,145.0 1673.1,144.9 1675.6,144.9 1678.1,144.8 1680.6,144.8 1683.1,144.8 1685.6,144.8 1688.1,144.8 1690.6,144.8 1693.1,144.8 1695.6,144.8 1698.1,144.8 1700.6,144.8 1703.1,144.9 1705.6,144.9 1708.1,145.0 1710.6,145.0 1713.1,145.1 1715.5,145.1 1718.0,145.2 1720.5,145.3 1723.0,145.3 1725.5,145.4 1728.0,145.5 1730.5,145.6 1733.0,145.7 1735.5,145.8 1738.0,145.9 1740.5,146.0 1743.0,146.1 1745.5,146.2 1748.0,146.3 1750.5,146.4 1753.0,146.5 1755.5,146.6 1758.0,146.7 1760.5,146.9 1763.0,147.0 1765.5,147.1 1768.0,147.2 1770.5,147.3 1771.8,147.4 1772.0,143.4 1770.6,143.3 1768.2,143.2 1765.7,143.1 1763.2,143.0 1760.7,142.9 1758.2,142.8 1755.7,142.6 1753.2,142.5 1750.7,142.4 1748.2,142.3 1745.7,142.2 1743.2,142.1 1740.7,142.0 1738.2,141.9 1735.7,141.8 1733.2,141.7 1730.7,141.6 1728.2,141.5 1725.7,141.4 1723.2,141.3 1720.7,141.3 1718.2,141.2 1715.6,141.1 1713.1,141.1 1710.6,141.0 1708.1,141.0 1705.6,140.9 1703.1,140.9 1700.6,140.8 1698.1,140.8 1695.6,140.8 1693.1,140.8 1690.6,140.8 1688.1,140.8 1685.6,140.8 1683.1,140.8 1680.6,140.8 1678.1,140.8 1675.6,140.9 1673.1,140.9 1670.6,141.0 1668.0,141.0 1665.5,141.1 1663.0,141.2 1660.5,141.3 1658.0,141.4 1655.5,141.5 1653.0,141.6 1650.5,141.8 1648.0,141.9 1645.5,142.1 1643.0,142.2 1640.5,142.4 1638.0,142.6 1635.5,142.8 1633.0,143.0 1630.5,143.2 1628.0,143.4 1625.5,143.7 1623.0,144.0 1620.5,144.2 1618.0,144.5 1615.5,144.8 1613.0,145.1 1610.5,145.4 1608.1,145.8 1605.6,146.1 1603.1,146.5 1600.6,146.9 1598.1,147.3 1595.7,147.7 1593.2,148.1 1590.7,148.6 1588.2,149.0 1585.8,149.5 1583.3,150.0 1580.8,150.5 1578.4,151.0 1575.9,151.5 1573.5,152.0 1571.0,152.6 1568.6,153.2 1566.2,153.8 1563.7,154.4 1561.3,155.0 1558.9,155.7 1556.4,156.3 1554.0,157.0 1551.6,157.7 1549.2,158.4 1546.8,159.1 1544.4,159.8 1542.0,160.6 1539.6,161.4 1537.2,162.2 1534.9,163.0 1532.5,163.8 1530.1,164.6 1527.8,165.5 1525.4,166.4 1523.1,167.2 1520.7,168.2 1518.4,169.1 1516.1,170.0 1513.7,171.0 1511.4,171.9 1509.1,172.9 1506.8,173.9 1504.5,174.9 1502.2,176.0 1500.0,177.0 1497.7,178.1 1495.4,179.2 1493.2,180.3 1490.9,181.4 1488.7,182.5 1486.5,183.7 1484.2,184.8 1482.0,186.0 1479.8,187.2 1477.6,188.4 1475.4,189.6 1473.2,190.8 1471.0,192.0 1468.9,193.3 1466.7,194.5 1464.5,195.8 1462.4,197.1 1460.2,198.4 1458.1,199.6 1455.9,200.9 1453.8,202.3 1451.7,203.6 1449.5,204.9 1447.4,206.2 1445.3,207.6 1443.2,208.9 1441.1,210.3 1439.0,211.6 1436.9,213.0 1434.8,214.4 1432.7,215.7 1430.6,217.1 1428.5,218.5 1426.5,219.9 1424.4,221.3 1422.3,222.7 1420.2,224.1 1418.2,225.5 1416.1,226.9 1414.0,228.3 1412.0,229.7 1409.9,231.2 1407.9,232.6 1405.8,234.0 1403.8,235.5 1401.7,236.9 1399.7,238.3 1397.6,239.8 1395.6,241.2 1393.5,242.7 1391.5,244.1 1389.5,245.5 1387.4,247.0 1385.4,248.4 1383.3,249.9 1381.3,251.3 1379.3,252.8 1377.2,254.2 1375.2,255.7 1373.2,257.1 1371.1,258.6 1369.1,260.0 1367.0,261.5 1365.0,262.9 1363.0,264.4 1360.9,265.8 1358.9,267.3 1356.8,268.7 1354.8,270.1 1352.8,271.6 1350.7,273.0 1348.7,274.4 1346.6,275.9 1344.6,277.3 1342.5,278.7 1340.5,280.1 1338.4,281.6 1336.3,283.0 1334.3,284.4 1332.2,285.8 1330.1,287.2 1328.1,288.6 1326.0,290.0 1323.9,291.4 1321.8,292.8 1319.8,294.1 1317.7,295.5 1315.6,296.9 1313.5,298.2 1311.4,299.6 1309.3,300.9 1307.2,302.3 1305.1,303.6 1303.0,304.9 1300.8,306.3 1298.7,307.6 1296.6,308.9 1294.4,310.2 1292.3,311.5 1290.2,312.7 1288.0,314.0 1285.9,315.3 1283.7,316.5 1281.5,317.7 1279.4,319.0 1277.2,320.2 1275.0,321.4 1272.8,322.6 1270.6,323.7 1268.4,324.9 1266.2,326.1 1264.0,327.2 1261.7,328.3 1259.5,329.5 1257.3,330.6 1255.0,331.7 1252.8,332.7 1250.5,333.8 1248.3,334.9 1246.0,335.9 1243.7,336.9 1241.5,338.0 1239.2,339.0 1236.9,340.0 1234.6,341.0 1232.3,341.9 1230.0,342.9 1227.7,343.9 1225.4,344.8 1223.1,345.7 1220.8,346.7 1218.5,347.6 1216.1,348.5 1213.8,349.4 1211.5,350.2 1209.1,351.1 1206.8,352.0 1204.5,352.8 1202.1,353.7 1199.8,354.5 1197.4,355.3 1195.0,356.1 1192.7,356.9 1190.3,357.7 1187.9,358.5 1185.6,359.3 1183.2,360.0 1180.8,360.8 1178.4,361.5 1176.1,362.3 1173.7,363.0 1171.3,363.7 1168.9,364.4 1166.5,365.1 1164.1,365.9 1161.7,366.5 1159.3,367.2 1156.9,367.9 1154.5,368.6 1152.1,369.3 1149.7,369.9 1147.3,370.6 1144.9,371.2 1142.5,371.9 1140.1,372.5 1137.6,373.1 1135.2,373.8 1132.8,374.4 1130.4,375.0 1128.0,375.6 1125.5,376.2 1123.1,376.9 1120.7,377.5 1118.3,378.1 1115.8,378.7 1113.4,379.3 1111.0,379.9 1108.6,380.4 1106.1,381.0 1103.7,381.6 1101.3,382.2 1098.9,382.8 1096.4,383.4 1094.0,384.0 1091.6,384.5 1089.1,385.1 1086.7,385.7 1084.3,386.3 1081.8,386.9 1079.4,387.4 1077.0,388.0 1074.5,388.6 1072.1,389.2 1069.7,389.8 1067.2,390.4 1064.8,391.0 1062.4,391.5 1060.0,392.1 1057.5,392.7 1055.1,393.3 1052.7,393.9 1050.2,394.5 1047.8,395.1 1045.4,395.8 1043.0,396.4 1040.5,397.0 1038.1,397.6 1035.7,398.3 1033.3,398.9 1030.8,399.5 1028.4,400.2 1026.0,400.8 1023.6,401.5 1021.2,402.1 1018.8,402.8 1016.4,403.5 1013.9,404.2 1011.5,404.8 1009.1,405.5 1006.7,406.2 1004.3,407.0 1001.9,407.7 999.5,408.4 997.1,409.1 994.7,409.9 992.3,410.6 990.0,411.4 987.6,412.1 985.2,412.9 982.8,413.7 980.4,414.5 978.1,415.3 975.7,416.1 973.3,416.9 971.0,417.8 968.6,418.6 966.2,419.4 963.9,420.3 961.5,421.2 959.2,422.1 956.8,422.9 954.5,423.8 952.2,424.8 949.8,425.7 947.5,426.6 945.2,427.6 942.9,428.5 940.6,429.5 938.3,430.5 936.0,431.5 933.7,432.5 931.4,433.5 929.1,434.5 926.8,435.5 924.5,436.6 922.3,437.7 920.0,438.7 917.7,439.8 915.5,440.9 913.2,442.0 911.0,443.1 908.7,444.2 906.5,445.4 904.3,446.5 902.1,447.7 899.9,448.9 897.6,450.1 895.4,451.3 893.2,452.5 891.1,453.7 888.9,454.9 886.7,456.2 884.5,457.4 882.4,458.7 880.2,459.9 878.1,461.2 875.9,462.5 873.8,463.8 871.6,465.1 869.5,466.5 867.4,467.8 865.3,469.2 863.2,470.5 861.1,471.9 859.0,473.3 856.9,474.7 854.8,476.1 852.8,477.5 850.7,478.9 848.7,480.3 846.6,481.8 844.6,483.2 842.5,484.7 840.5,486.2 838.5,487.6 836.5,489.1 834.5,490.6 832.5,492.1 830.5,493.7 828.5,495.2 826.5,496.7 824.6,498.3 822.6,499.8 820.7,501.4 818.7,503.0 816.8,504.6 814.9,506.1 812.9,507.7 811.0,509.4 809.1,511.0 807.2,512.6 805.3,514.2 803.4,515.9 801.5,517.5 799.7,519.2 797.8,520.9 795.9,522.5 794.1,524.2 792.3,525.9 790.4,527.6 788.6,529.3 786.8,531.0 785.0,532.7 783.1,534.5 781.3,536.2 779.5,537.9 777.8,539.7 776.0,541.5 774.2,543.2 772.4,545.0 770.7,546.8 768.9,548.5 767.2,550.3 765.4,552.1 763.7,553.9 761.9,555.7 760.2,557.5 758.5,559.3 756.8,561.2 755.1,563.0 753.4,564.8 751.7,566.7 750.0,568.5 748.3,570.4 746.7,572.2 745.0,574.1 743.3,576.0 741.7,577.8 740.0,579.7 738.4,581.6 736.8,583.5 735.1,585.4 733.5,587.3 731.9,589.2 730.3,591.1 728.7,593.1 727.1,595.0 725.5,596.9 723.9,598.8 722.4,600.8 720.8,602.7 719.2,604.7 717.7,606.6 716.1,608.6 714.6,610.6 713.0,612.5 711.5,614.5 710.0,616.5 708.5,618.5 706.9,620.5 705.4,622.4 703.9,624.4 702.4,626.4 700.9,628.4 699.4,630.5 698.0,632.5 696.5,634.5 695.0,636.5 693.5,638.5 692.1,640.6 690.6,642.6 689.2,644.6 687.7,646.7 686.3,648.7 684.9,650.8 683.4,652.8 682.0,654.9 680.6,656.9 679.2,659.0 677.8,661.1 676.4,663.1 675.0,665.2 673.6,667.3 672.2,669.3 670.8,671.4 669.4,673.5 668.1,675.6 666.7,677.7 665.3,679.8 664.0,681.9 662.6,684.0 661.3,686.1 659.9,688.2 658.6,690.3 657.2,692.4 655.9,694.5 654.6,696.7 653.3,698.8 651.9,700.9 650.6,703.0 649.3,705.2 648.0,707.3 646.7,709.4 645.4,711.6 644.1,713.7 642.8,715.8 641.6,718.0 640.3,720.1 639.0,722.3 637.7,724.4 636.4,726.6 635.2,728.7 633.9,730.9 632.7,733.0 631.4,735.2 630.1,737.4 628.9,739.5 627.6,741.7 626.4,743.9 625.2,746.0 623.9,748.2 622.7,750.4 621.5,752.6 620.2,754.7 619.0,756.9 617.8,759.1 616.6,761.3 615.4,763.5 614.1,765.6 612.9,767.8 611.7,770.0 610.5,772.2 609.3,774.4 608.1,776.6 606.9,778.8 605.7,781.0 604.5,783.2 603.4,785.4 602.2,787.6 601.0,789.8 599.8,792.0 598.6,794.2 597.5,796.4 596.3,798.6 595.1,800.8 593.9,803.0 592.8,805.2 591.6,807.5 590.5,809.7 589.3,811.9 588.1,814.1 587.0,816.3 585.8,818.5 584.7,820.7 583.5,823.0 582.4,825.2 581.2,827.4 580.1,829.6 579.0,831.9 577.8,834.1 576.7,836.3 575.6,838.5 574.4,840.8 573.3,843.0 572.2,845.2 571.0,847.5 569.9,849.7 568.8,851.9 567.7,854.2 566.6,856.4 565.4,858.6 564.3,860.9 563.2,863.1 562.1,865.3 561.0,867.6 559.9,869.8 558.8,872.1 557.7,874.3 556.6,876.6 555.5,878.8 554.4,881.0 553.3,883.3 552.2,885.5 551.1,887.8 550.0,890.0 548.9,892.3 547.8,894.5 546.7,896.8 545.6,899.0 544.6,901.3 543.5,903.5 542.4,905.8 541.3,908.0 540.2,910.3 539.2,912.6 538.1,914.8 537.0,917.1 535.9,919.3 534.9,921.6 533.8,923.8 532.7,926.1 531.7,928.4 530.6,930.6 529.5,932.9 528.5,935.1 527.4,937.4 526.3,939.7 525.3,941.9 524.2,944.2 523.2,946.5 522.1,948.7 521.0,951.0 520.0,953.3 518.9,955.5 517.9,957.8 516.8,960.1 515.8,962.3 514.7,964.6 513.7,966.9 512.6,969.1 511.6,971.4 510.5,973.7 509.5,975.9 508.5,978.2 507.4,980.5 506.4,982.8 505.3,985.0 504.3,987.3 503.3,989.6 502.2,991.9 501.2,994.1 500.1,996.4 499.1,998.7 498.1,1001.0 497.0,1003.2 496.0,1005.5 495.0,1007.8 494.0,1010.1 492.9,1012.3 491.9,1014.6 490.9,1016.9 489.8,1019.2 488.8,1021.5 487.8,1023.7 486.8,1026.0 485.7,1028.3 484.7,1030.6 483.7,1032.9 482.7,1035.1 481.7,1037.4 480.6,1039.7 479.6,1042.0 478.6,1044.3 477.6,1046.6 476.6,1048.8 475.5,1051.1 474.5,1053.4 473.5,1055.7 472.5,1058.0 471.5,1060.3 470.5,1062.5 469.5,1064.8 468.5,1067.1 467.4,1069.4 466.4,1071.7 465.4,1074.0 464.4,1076.3 463.4,1078.6 462.4,1080.8 461.4,1083.1 460.4,1085.4 459.4,1087.7 458.4,1090.0 457.4,1092.3 456.4,1094.6 455.4,1096.9 454.4,1099.1 453.4,1101.4 452.3,1103.7 451.3,1106.0 450.3,1108.3 449.3,1110.6 448.3,1112.9 447.3,1115.2 446.3,1117.5 445.3,1119.8 444.3,1122.1 443.3,1124.3 442.3,1126.6 441.3,1128.9 440.4,1131.2 439.4,1133.5 438.4,1135.8 437.4,1138.1 436.4,1140.4 435.4,1142.7 434.4,1145.0 433.4,1147.3 432.4,1149.6 431.4,1151.9 430.4,1154.2 429.4,1156.4 428.4,1158.7 427.4,1161.0 426.4,1163.3 425.4,1165.6 424.4,1167.9 423.4,1170.2 422.5,1172.5 421.5,1174.8 420.5,1177.1 419.5,1179.4 418.5,1181.7 417.5,1184.0 416.5,1186.3 415.5,1188.6 414.5,1190.9 413.5,1193.2 412.5,1195.5 411.6,1197.8 410.6,1200.1 409.6,1202.3 408.6,1204.6 407.6,1206.9 406.6,1209.2 405.6,1211.5 404.6,1213.8 403.6,1216.1 402.7,1218.4 401.7,1220.7 400.7,1223.0 399.7,1225.3 398.7,1227.6 397.7,1229.9 396.7,1232.2 395.7,1234.5 394.8,1236.8 393.8,1239.1 392.8,1241.4 391.8,1243.7 390.8,1246.0 389.8,1248.3Z" fill="#F04040"/>
<rect x="252.0" y="1370.5" width="1662.0" height="4" fill="#000000"/><rect x="389.5" y="1347.5" width="4" height="25" fill="#000000"/><rect x="665.58" y="1347.5" width="4" height="25" fill="#000000"/><rect x="941.66" y="1347.5" width="4" height="25" fill="#000000"/><rect x="1217.74" y="1347.5" width="4" height="25" fill="#000000"/><rect x="1493.82" y="1347.5" width="4" height="25" fill="#000000"/><rect x="1769.9" y="1347.5" width="4" height="25" fill="#000000"/><rect x="527.54" y="1360" width="4" height="12.5" fill="#000000"/><rect x="803.62" y="1360" width="4" height="12.5" fill="#000000"/><rect x="1079.7" y="1360" width="4" height="12.5" fill="#000000"/><rect x="1355.78" y="1360" width="4" height="12.5" fill="#000000"/><rect x="1631.86" y="1360" width="4" height="12.5" fill="#000000"/><rect x="252.0" y="36.0" width="4" height="1340.5" fill="#505050"/><rect x="254" y="1370.5" width="25" height="4" fill="#505050"/><rect x="254" y="1148.75" width="25" height="4" fill="#505050"/><rect x="254" y="926.3" width="25" height="4" fill="#505050"/><rect x="254" y="703.85" width="25" height="4" fill="#505050"/><rect x="254" y="481.4" width="25" height="4" fill="#505050"/><rect x="254" y="258.95" width="25" height="4" fill="#505050"/><rect x="254" y="36" width="25" height="4" fill="#505050"/><rect x="254" y="1259.98" width="12.5" height="4" fill="#505050"/><rect x="254" y="1037.53" width="12.5" height="4" fill="#505050"/><rect x="254" y="815.08" width="12.5" height="4" fill="#505050"/><rect x="254" y="592.63" width="12.5" height="4" fill="#505050"/><rect x="254" y="370.18" width="12.5" height="4" fill="#505050"/><rect x="254" y="147.73" width="12.5" height="4" fill="#505050"/><rect x="252.0" y="36.0" width="1662.0" height="4" fill="#000000"/><rect x="1907.5" y="36.0" width="4" height="1340.5" fill="#F04040"/><rect x="1882.5" y="1282.6" width="27" height="4" fill="#F04040"/><rect x="1882.5" y="1104.6" width="27" height="4" fill="#F04040"/><rect x="1882.5" y="926.6" width="27" height="4" fill="#F04040"/><rect x="1882.5" y="748.6" width="27" height="4" fill="#F04040"/><rect x="1882.5" y="570.6" width="27" height="4" fill="#F04040"/><rect x="1882.5" y="392.6" width="27" height="4" fill="#F04040"/><rect x="1882.5" y="214.6" width="27" height="4" fill="#F04040"/><rect x="1882.5" y="36" width="27" height="4" fill="#F04040"/><rect x="1897" y="1370.5" width="12.5" height="4" fill="#F04040"/><rect x="1897" y="1193.6" width="12.5" height="4" fill="#F04040"/><rect x="1897" y="1015.6" width="12.5" height="4" fill="#F04040"/><rect x="1897" y="837.6" width="12.5" height="4" fill="#F04040"/><rect x="1897" y="659.6" width="12.5" height="4" fill="#F04040"/><rect x="1897" y="481.6" width="12.5" height="4" fill="#F04040"/><rect x="1897" y="303.6" width="12.5" height="4" fill="#F04040"/><rect x="1897" y="125.6" width="12.5" height="4" fill="#F04040"/>
<text x="113 139 169 197" y="1395.2" font-size="56" fill="#505050" stroke="#fff" stroke-width="0.9">2.52</text>
<text x="113 139 169 197" y="1172.75" font-size="56" fill="#505050" stroke="#fff" stroke-width="0.9">2.54</text>
<text x="113 139 169 197" y="950.3" font-size="56" fill="#505050" stroke="#fff" stroke-width="0.9">2.56</text>
<text x="113 139 169 197" y="727.85" font-size="56" fill="#505050" stroke="#fff" stroke-width="0.9">2.58</text>
<text x="113 139 169 197" y="505.4" font-size="56" fill="#505050" stroke="#fff" stroke-width="0.9">2.60</text>
<text x="113 139 169 197" y="282.95" font-size="56" fill="#505050" stroke="#fff" stroke-width="0.9">2.62</text>
<text x="113 139 169 197" y="60.5" font-size="56" fill="#505050" stroke="#fff" stroke-width="0.9">2.64</text>
<text x="335.5 361.5 391.5 419.5" y="1449.5" font-size="56" fill="#000000" stroke="#fff" stroke-width="0.9">1.20</text>
<text x="611.58 637.58 667.58 695.58" y="1449.5" font-size="56" fill="#000000" stroke="#fff" stroke-width="0.9">1.25</text>
<text x="887.66 913.66 943.66 971.66" y="1449.5" font-size="56" fill="#000000" stroke="#fff" stroke-width="0.9">1.30</text>
<text x="1163.74 1189.74 1219.74 1247.74" y="1449.5" font-size="56" fill="#000000" stroke="#fff" stroke-width="0.9">1.35</text>
<text x="1439.82 1465.82 1495.82 1523.82" y="1449.5" font-size="56" fill="#000000" stroke="#fff" stroke-width="0.9">1.40</text>
<text x="1715.9 1741.9 1771.9 1799.9" y="1449.5" font-size="56" fill="#000000" stroke="#fff" stroke-width="0.9">1.45</text>
<text x="1938 1966 1994 2022" y="1305.6" font-size="56" fill="#F04040" stroke="#fff" stroke-width="0.9">71.0</text>
<text x="1938 1966 1994 2022" y="1127.6" font-size="56" fill="#F04040" stroke="#fff" stroke-width="0.9">71.5</text>
<text x="1938 1966 1994 2022" y="949.6" font-size="56" fill="#F04040" stroke="#fff" stroke-width="0.9">72.0</text>
<text x="1938 1966 1994 2022" y="771.6" font-size="56" fill="#F04040" stroke="#fff" stroke-width="0.9">72.5</text>
<text x="1938 1966 1994 2022" y="593.6" font-size="56" fill="#F04040" stroke="#fff" stroke-width="0.9">73.0</text>
<text x="1938 1966 1994 2022" y="415.6" font-size="56" fill="#F04040" stroke="#fff" stroke-width="0.9">73.5</text>
<text x="1938 1966 1994 2022" y="237.6" font-size="56" fill="#F04040" stroke="#fff" stroke-width="0.9">74.0</text>
<text x="1938 1966 1994 2022" y="59.6" font-size="56" fill="#F04040" stroke="#fff" stroke-width="0.9">74.5</text>
<text transform="translate(66.3,705.9) rotate(-90)" text-anchor="middle" font-size="70" fill="#000">Pressure ratio</text>
<text x="1080.8" y="1547" text-anchor="middle" font-size="70" fill="#000">flow rate</text>
<text transform="translate(2127,1270.0) rotate(-90)" font-size="69.6" fill="#000">polytropic compression efficiency<tspan dx="-6">（</tspan><tspan dx="7">%</tspan><tspan dx="5">）</tspan></text>
<line x1="496" y1="96.3" x2="598" y2="96.3" stroke="#505050" stroke-width="4"/>
<rect x="533.3" y="82.2" width="25" height="26.5" fill="#505050"/>
<text x="605.7" y="108.5" font-size="44.6" fill="#000" stroke="#000" stroke-width="0.7">Pressure ratio</text>
<line x1="848.5" y1="96.3" x2="950" y2="96.3" stroke="#F04040" stroke-width="4"/>
<path d="M881.8,86.13 L916.8,86.13 L899.3,116.63 Z" fill="#F04040"/>
<text x="958.8" y="108.5" font-size="44.15" fill="#000" stroke="#000" stroke-width="0.7">polytropic compression efficiency（<tspan dx="5">%</tspan><tspan dx="1">）</tspan></text>
<rect x="378.7" y="192.04" width="25.6" height="26.6" fill="#505050"/>
<rect x="654.78" y="269.9" width="25.6" height="26.6" fill="#505050"/>
<rect x="930.86" y="470.1" width="25.6" height="26.6" fill="#505050"/>
<rect x="1262.16" y="625.82" width="25.6" height="26.6" fill="#505050"/>
<rect x="1483.02" y="1126.33" width="25.6" height="26.6" fill="#505050"/>
<rect x="1759.1" y="1204.19" width="25.6" height="26.6" fill="#505050"/>
<path d="M374.5,1239.17 L408.5,1239.17 L391.5,1268.67 Z" fill="#F04040"/>
<path d="M650.58,669.57 L684.58,669.57 L667.58,699.07 Z" fill="#F04040"/>
<path d="M926.66,420.37 L960.66,420.37 L943.66,449.87 Z" fill="#F04040"/>
<path d="M1257.96,313.57 L1291.96,313.57 L1274.96,343.07 Z" fill="#F04040"/>
<path d="M1478.82,171.17 L1512.82,171.17 L1495.82,200.67 Z" fill="#F04040"/>
<path d="M1754.9,135.57 L1788.9,135.57 L1771.9,165.07 Z" fill="#F04040"/>
</svg></body></html>
